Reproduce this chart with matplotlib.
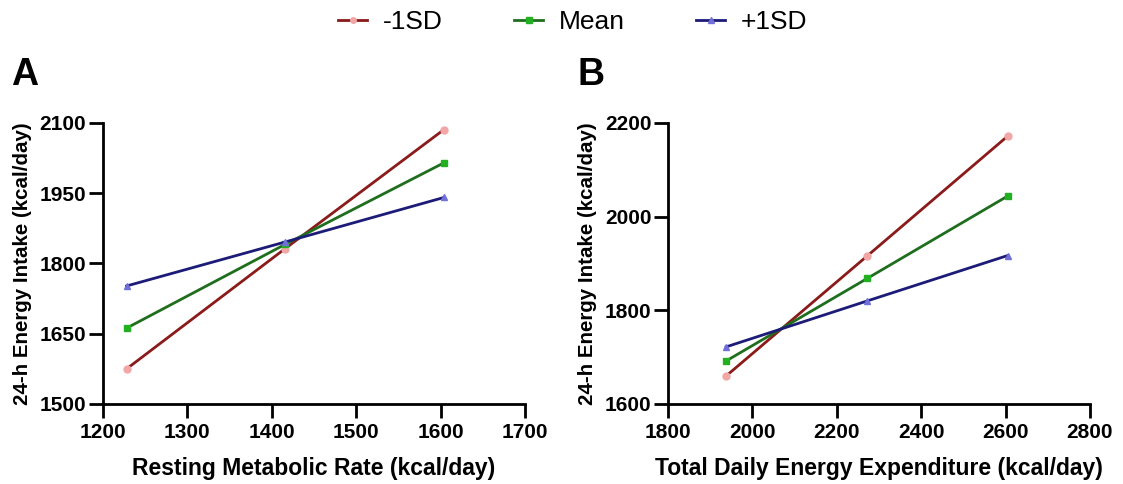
import matplotlib
matplotlib.use("Agg")
import matplotlib.pyplot as plt
from matplotlib.lines import Line2D

plt.rcParams['font.family'] = ['Liberation Sans', 'DejaVu Sans']

# panel A: resting metabolic rate
rmr = [1228, 1416, 1604]
rmr_low = [1575, 1832, 2086]
rmr_mean = [1662, 1841, 2015]
rmr_high = [1752, 1846, 1941]

# panel B: total daily energy expenditure
tdee = [1938, 2272, 2605]
tdee_low = [1660, 1916, 2172]
tdee_mean = [1692, 1868, 2044]
tdee_high = [1722, 1820, 1917]

series_names = ["-1SD", "Mean", "+1SD"]
line_cols = ["#8B1A1A", "#1E6E1E", "#1C1C78"]
mark_cols = ["#F2A7A7", "#22B022", "#7070D8"]
markers = ["o", "s", "^"]

fig = plt.figure(figsize=(11.23, 4.84), dpi=100)
axA = fig.add_axes([0.0917, 0.1653, 0.3758, 0.5806])
axB = fig.add_axes([0.5948, 0.1653, 0.3758, 0.5806])


def draw(ax, x, ys, xlim, xticks, ylim, yticks, xlabel):
    for y, lc, mc, m in zip(ys, line_cols, mark_cols, markers):
        ax.plot(x, y, '-', color=lc, lw=2, marker=m, ms=5,
                mfc=mc, mec=mc, zorder=3, clip_on=False)
    ax.set_xlim(xlim)
    ax.set_ylim(ylim)
    ax.set_xticks(xticks)
    ax.set_yticks(yticks)
    for s in ["top", "right"]:
        ax.spines[s].set_visible(False)
    for s in ["left", "bottom"]:
        ax.spines[s].set_linewidth(2)
    ax.tick_params(width=2, length=10, labelsize=15)
    ax.tick_params(axis="x", pad=4)
    ax.tick_params(axis="y", pad=2)
    for lab in ax.get_xticklabels() + ax.get_yticklabels():
        lab.set_fontweight("bold")
    ax.set_xlabel(xlabel, fontsize=16.5, fontweight="bold", va="center")
    ax.xaxis.set_label_coords(0.5, -0.23)
    ax.set_ylabel("24-h Energy Intake (kcal/day)", fontsize=14.8,
                  fontweight="bold", va="center")
    ax.yaxis.set_label_coords(-0.19, 0.5)


draw(axA, rmr, [rmr_low, rmr_mean, rmr_high], (1200, 1700),
     range(1200, 1701, 100), (1500, 2100), range(1500, 2101, 150),
     "Resting Metabolic Rate (kcal/day)")
draw(axB, tdee, [tdee_low, tdee_mean, tdee_high], (1800, 2800),
     range(1800, 2801, 200), (1600, 2200), range(1600, 2201, 200),
     "Total Daily Energy Expenditure (kcal/day)")

fig.text(0.010, 0.824, "A", fontsize=27, fontweight="bold")
fig.text(0.514, 0.824, "B", fontsize=27, fontweight="bold")

handles = [Line2D([], [], color=lc, lw=2, marker=m, ms=4, mfc=mc, mec=mc)
           for lc, mc, m in zip(line_cols, mark_cols, markers)]
fig.legend(handles, series_names, loc="center", ncol=3, frameon=False,
           fontsize=19, bbox_to_anchor=(0.51, 0.955), columnspacing=2.7,
           handlelength=1.1, handletextpad=0.6)

fig.savefig("out.png", dpi=100)
